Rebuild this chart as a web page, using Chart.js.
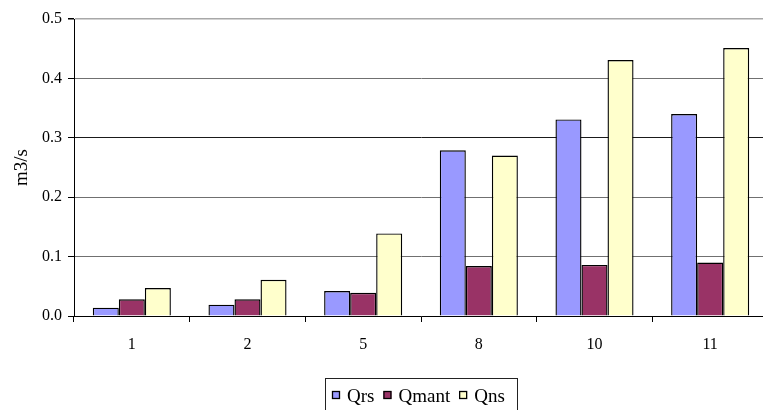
<!DOCTYPE html>
<html>
<head>
<meta charset="utf-8">
<script src="https://cdn.jsdelivr.net/npm/chart.js@4/dist/chart.umd.min.js"></script>
<style>
  html, body { margin: 0; padding: 0; background: #fff; overflow: hidden; }
  #wrap { position: relative; width: 770px; height: 410px; }
</style>
</head>
<body>
<div id="wrap"><canvas id="c"></canvas></div>
<script>
// Flow rates per station
const categories = ['1', '2', '5', '8', '10', '11'];
const qrs   = [0.014, 0.019, 0.042, 0.279, 0.331, 0.340];
const qmant = [0.028, 0.028, 0.039, 0.084, 0.086, 0.090];
const qns   = [0.047, 0.061, 0.139, 0.270, 0.431, 0.451];
const seriesNames = ['Qrs', 'Qmant', 'Qns'];
const yTicks = [0, 0.1, 0.2, 0.3, 0.4, 0.5];

const FONT = '"Liberation Serif", "Times New Roman", serif';
const colors = ['#9999FF', '#993366', '#FFFFCC'];

function gridColor(v) {
  if (v === 0.5) return '#a8a8a8';
  if (Math.abs(v - 0.3) < 1e-9) return '#1a1a1a';
  return '#707070';
}

// Boxed legend drawn under the plot
const boxedLegend = {
  id: 'boxedLegend',
  afterDraw(chart) {
    const ctx = chart.ctx;
    ctx.save();
    ctx.strokeStyle = '#222';
    ctx.lineWidth = 1;
    ctx.strokeRect(325.5, 378.5, 192, 40);
    ctx.font = '19px ' + FONT;
    ctx.textBaseline = 'middle';
    let x = 332;
    const yMid = 397;
    chart.data.datasets.forEach((ds) => {
      ctx.fillStyle = ds.backgroundColor;
      ctx.fillRect(x, yMid - 6, 8, 8);
      ctx.strokeStyle = '#000';
      ctx.lineWidth = 1.3;
      ctx.strokeRect(x + 0.5, yMid - 5.5, 7, 7);
      ctx.fillStyle = '#000';
      ctx.fillText(ds.label, x + 15, yMid);
      x += 15 + ctx.measureText(ds.label).width + 9;
    });
    ctx.restore();
  }
};

new Chart(document.getElementById('c'), {
  type: 'bar',
  data: {
    labels: categories,
    datasets: [qrs, qmant, qns].map((vals, i) => ({
      label: seriesNames[i],
      data: vals,
      backgroundColor: colors[i],
      borderColor: '#000',
      borderWidth: 1.4,
      categoryPercentage: 0.675,
      barPercentage: 1.0
    }))
  },
  options: {
    responsive: true,
    maintainAspectRatio: false,
    animation: false,
    layout: { padding: { left: 0, right: 2, top: 19, bottom: 0 } },
    plugins: { legend: { display: false }, tooltip: { enabled: false } },
    scales: {
      x: {
        grid: { offset: true, drawOnChartArea: false, drawTicks: true, tickLength: 6, tickColor: '#000' },
        border: { color: '#000', width: 1 },
        ticks: { color: '#000', font: { family: FONT, size: 16 }, padding: 13 },
        afterFit(scale) { scale.height = 94; }
      },
      y: {
        min: 0, max: 0.5,
        afterBuildTicks(scale) { scale.ticks = yTicks.map(v => ({ value: v })); },
        grid: {
          color: ctx => gridColor(ctx.tick ? ctx.tick.value : 0),
          lineWidth: ctx => (ctx.tick && ctx.tick.value === 0.5) ? 1.5 : 1,
          tickLength: 6, tickColor: '#000'
        },
        border: { color: '#000', width: 1 },
        ticks: {
          color: '#000', font: { family: FONT, size: 16 }, padding: 6,
          callback: v => Number(v).toFixed(1)
        },
        title: { display: true, text: 'm3/s', color: '#000', font: { family: FONT, size: 19 }, padding: { top: 11, bottom: 0 } },
        afterFit(scale) { scale.width = 74; }
      }
    }
  },
  plugins: [boxedLegend]
});
</script>
</body>
</html>
